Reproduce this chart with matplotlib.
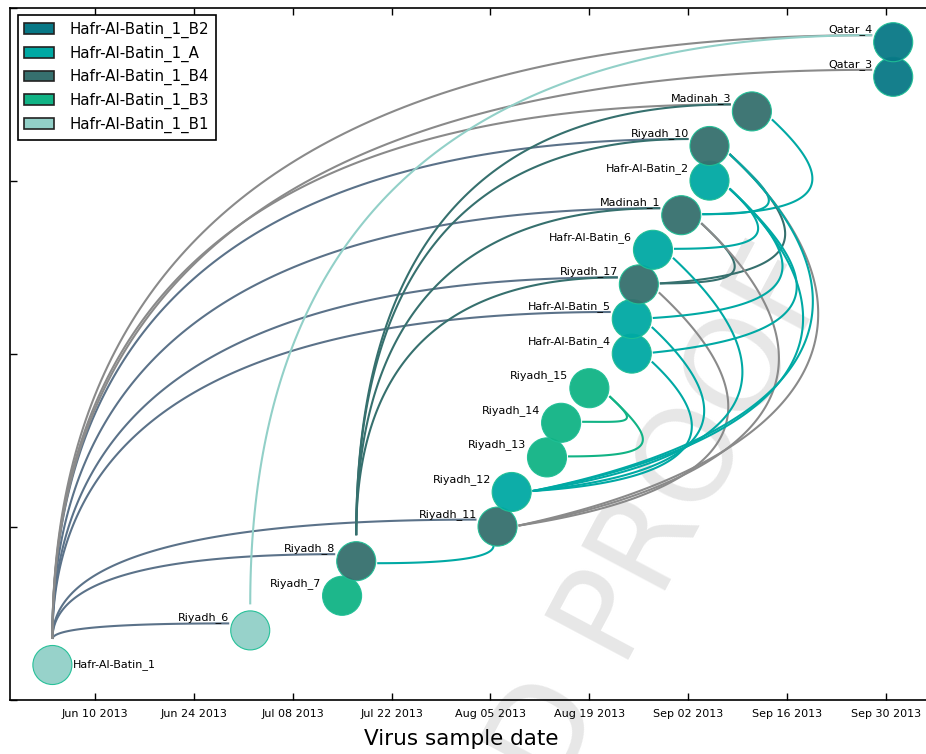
import numpy as np
import pandas as pd
import matplotlib
matplotlib.use('Agg')
import matplotlib.pyplot as plt
import matplotlib.dates as mdates
from matplotlib.patches import Patch
from math import comb

# Sampled viruses, ordered by their row in the network
names = ['Hafr-Al-Batin_1', 'Riyadh_6', 'Riyadh_7', 'Riyadh_8', 'Riyadh_11',
         'Riyadh_12', 'Riyadh_13', 'Riyadh_14', 'Riyadh_15', 'Hafr-Al-Batin_4',
         'Hafr-Al-Batin_5', 'Riyadh_17', 'Hafr-Al-Batin_6', 'Madinah_1',
         'Hafr-Al-Batin_2', 'Riyadh_10', 'Madinah_3', 'Qatar_3', 'Qatar_4']
dates = ['2013-06-04', '2013-07-02', '2013-07-15', '2013-07-17', '2013-08-06',
         '2013-08-08', '2013-08-13', '2013-08-15', '2013-08-19', '2013-08-25',
         '2013-08-25', '2013-08-26', '2013-08-28', '2013-09-01', '2013-09-05',
         '2013-09-05', '2013-09-11', '2013-10-01', '2013-10-01']
clades = ['B1', 'B1', 'B3', 'B4', 'B4', 'A', 'B3', 'B3', 'B3', 'A',
          'A', 'B4', 'A', 'B4', 'A', 'B4', 'B4', 'B2', 'B2']

# Transmission links: source, target, colour key
edge_src = ['Hafr-Al-Batin_1'] * 10 + ['Riyadh_6'] + ['Riyadh_8'] * 4 + [
    'Riyadh_11', 'Riyadh_15', 'Riyadh_15', 'Madinah_3', 'Riyadh_10',
    'Riyadh_10', 'Madinah_1', 'Riyadh_10', 'Madinah_1', 'Riyadh_17',
    'Hafr-Al-Batin_2', 'Hafr-Al-Batin_2', 'Hafr-Al-Batin_2', 'Hafr-Al-Batin_2',
    'Riyadh_10', 'Hafr-Al-Batin_6', 'Hafr-Al-Batin_5', 'Hafr-Al-Batin_4']
edge_dst = ['Riyadh_6', 'Riyadh_8', 'Riyadh_11', 'Hafr-Al-Batin_5', 'Riyadh_17',
            'Madinah_1', 'Riyadh_10', 'Madinah_3', 'Qatar_3', 'Qatar_4',
            'Qatar_4',
            'Madinah_3', 'Riyadh_10', 'Madinah_1', 'Riyadh_17',
            'Riyadh_8', 'Riyadh_14', 'Riyadh_13', 'Madinah_1', 'Madinah_1',
            'Riyadh_17', 'Riyadh_17', 'Riyadh_11', 'Riyadh_11', 'Riyadh_11',
            'Hafr-Al-Batin_6', 'Hafr-Al-Batin_5', 'Hafr-Al-Batin_4', 'Riyadh_12',
            'Riyadh_12', 'Riyadh_12', 'Riyadh_12', 'Riyadh_12']
edge_col = ['slate'] * 7 + ['grey'] * 3 + ['B1'] + ['B4'] * 4 + [
    'A', 'B3', 'B3', 'A', 'A', 'B4', 'B4', 'grey', 'grey', 'grey',
    'A', 'A', 'A', 'A', 'A', 'A', 'A', 'A']

legend_order = ['B2', 'A', 'B4', 'B3', 'B1']
clade_colors = {'B2': '#087886', 'A': '#00a9a4', 'B4': '#36706e',
                'B3': '#11b385', 'B1': '#92d0c8'}
line_colors = dict(clade_colors, slate='#5b7289', grey='#8a8a8a')

x = mdates.date2num(pd.to_datetime(dates))
y = np.arange(1, len(names) + 1)
idx = {n: i for i, n in enumerate(names)}

fig = plt.figure(figsize=(9.26, 7.54), dpi=100)
ax = fig.add_axes([10 / 926, 1 - 699.6 / 754, 925.6 / 926, 692 / 754])
ax.set_xlim(mdates.date2num(pd.Timestamp('2013-05-29')),
            mdates.date2num(pd.Timestamp('2013-10-07')))
ax.set_ylim(0, 20)


def bezier(pts, t):
    pts = np.asarray(pts, dtype=float)
    n = len(pts) - 1
    out = np.zeros((len(t), 2))
    for k in range(n + 1):
        out += comb(n, k) * ((1 - t) ** (n - k) * t ** k)[:, None] * pts[k]
    return out


t = np.linspace(0, 1, 120)
to_px = ax.transData.transform
to_data = ax.transData.inverted().transform
ang = np.deg2rad(43)

for s_name, d_name, ck in zip(edge_src, edge_dst, edge_col):
    s, d = idx[s_name], idx[d_name]
    S = to_px((x[s], y[s]))
    E = to_px((x[d], y[d]))
    if y[d] > y[s]:
        # forward in the tree: leave upwards, arrive from the left
        p0 = S + (0, 26)
        p2 = E + (-21, 7)
        curve = bezier([p0, (p0[0], p2[1]), p2], t)
    else:
        drop = S[1] - E[1]
        if S[0] - E[0] > 2 * drop:
            p0 = S + (-4, -19)
            p2 = E + (21, -2)
            curve = bezier([p0, (p0[0], p2[1]), p2], t)
        else:
            # loop out to the right and come back in
            p0 = S + (20, -8)
            p3 = E + (21, 1)
            h = p0[1] - p3[1]
            u = 5.56 * h ** 0.62
            v = 4.9 * h ** 0.708
            w = 0.25 * max(0.0, h - 90)
            p1 = p0 + u * np.array([np.cos(ang), -np.sin(ang)])
            p2 = p3 + (v, w)
            curve = bezier([p0, p1, p2, p3], t)
    pts = to_data(curve)
    ax.plot(pts[:, 0], pts[:, 1], color=line_colors[ck], lw=1.5,
            solid_capstyle='butt', zorder=2)

ax.scatter(x, y, s=790, c=[clade_colors[c] for c in clades],
           edgecolors='#1fbf95', linewidths=0.8, alpha=0.95, zorder=3)

for i, n in enumerate(names):
    if i == 0:
        ax.annotate(n, (x[i], y[i]), xytext=(15, 0), textcoords='offset points',
                    ha='left', va='center', fontsize=8, zorder=4)
    else:
        ax.annotate(n, (x[i], y[i]), xytext=(-15, 9), textcoords='offset points',
                    ha='right', va='center', fontsize=8, zorder=4)

# axis styling
ticks = mdates.date2num(pd.date_range('2013-06-10', '2013-09-30', freq='14D'))
ax.set_xticks(ticks)
ax.xaxis.set_major_formatter(mdates.DateFormatter('%b %d %Y'))
ax.set_yticks([0, 5, 10, 15, 20])
ax.set_yticklabels([])
ax.tick_params(direction='in', length=5, width=1, top=True, right=True,
               labelsize=8, pad=6.5)
for sp in ax.spines.values():
    sp.set_linewidth(1.2)
ax.set_xlabel('Virus sample date', fontsize=15.5)
ax.xaxis.set_label_coords(0.488, -0.042)

handles = [Patch(facecolor=clade_colors[c], edgecolor='#222222', lw=1.2)
           for c in legend_order]
leg = ax.legend(handles, ['Hafr-Al-Batin_1_' + c for c in legend_order],
                loc='upper left', fontsize=10.8, fancybox=False, framealpha=1,
                edgecolor='black', handlelength=2.0, handletextpad=1.0,
                borderpad=0.45, borderaxespad=0.5, labelspacing=0.5)
leg.get_frame().set_linewidth(1.2)
leg.set_zorder(6)

ax.text(0.522, -0.2368, 'UNCORRECTED PROOF', transform=fig.transFigure,
        rotation=62, rotation_mode='anchor', ha='center', va='baseline',
        fontsize=93.6, color='#e7e7e7', zorder=0.5, clip_on=False)

fig.savefig('out.png', dpi=100)
